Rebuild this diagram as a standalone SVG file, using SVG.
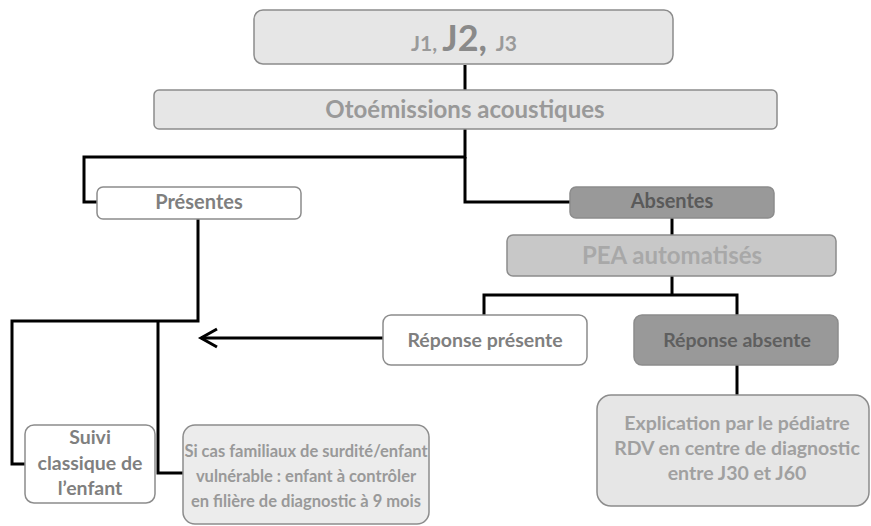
<svg xmlns="http://www.w3.org/2000/svg" width="871" height="526" viewBox="0 0 871 526">
<style>
.box{stroke:#8c8c8c;stroke-width:1.5}
.t{font-family:Lato,"Liberation Sans",sans-serif;font-weight:bold;text-anchor:middle}
.ln{fill:none;stroke:#000;stroke-width:3;stroke-linejoin:miter}
</style>
<rect width="871" height="526" fill="#fff"/>
<g id="connectors">
<path class="ln" d="M465 65 V90"/>
<path class="ln" d="M465 129 V157 H84 V202 H97"/>
<path class="ln" d="M465 157 V202 H570"/>
<path class="ln" d="M672 218 V235"/>
<path class="ln" d="M672 276 V295 M484 315 V295 H737 V315"/>
<path class="ln" d="M737 365 V395"/>
<path class="ln" d="M198 219 V321 H12 V464 H25"/>
<path class="ln" d="M158 321 V473 H183"/>
<path class="ln" d="M383 338 H201"/>
<path class="ln" d="M217 329 L201 338 L217 347"/>
</g>
<g id="n-j">
<rect class="box" x="254" y="10" width="419" height="54" rx="9" fill="#e6e6e6"/>
<text class="t" x="464" y="51" fill="#9a9a9a"><tspan font-size="21">J1, </tspan><tspan font-size="36" fill="#8a8a8a">J2, </tspan><tspan font-size="21">J3</tspan></text>
</g>
<g id="n-oto">
<rect class="box" x="154" y="90" width="623" height="39" rx="5" fill="#e6e6e6"/>
<text class="t" x="465" y="118" font-size="24" fill="#999">Otoémissions acoustiques</text>
</g>
<g id="n-pres">
<rect class="box" x="97" y="187" width="204" height="32" rx="6" fill="#fff"/>
<text class="t" x="199" y="209" font-size="20" fill="#7f7f7f">Présentes</text>
</g>
<g id="n-abs">
<rect class="box" x="570" y="187" width="204" height="31" rx="6" fill="#999"/>
<text class="t" x="672" y="208" font-size="20" fill="#5a5a5a">Absentes</text>
</g>
<g id="n-pea">
<rect class="box" x="507" y="235" width="329" height="41" rx="6" fill="#c8c8c8"/>
<text class="t" x="672" y="264" font-size="24" fill="#a8a8a8">PEA automatisés</text>
</g>
<g id="n-rpres">
<rect class="box" x="383" y="315" width="204" height="50" rx="8" fill="#fff"/>
<text class="t" x="485" y="347" font-size="19.5" fill="#7f7f7f">Réponse présente</text>
</g>
<g id="n-rabs">
<rect class="box" x="634" y="315" width="204" height="50" rx="8" fill="#999"/>
<text class="t" x="737" y="347" font-size="19.5" fill="#5f5f5f">Réponse absente</text>
</g>
<g id="n-suivi">
<rect class="box" x="25" y="425" width="130" height="78" rx="9" fill="#fff"/>
<text class="t" x="90" y="444" font-size="19.5" fill="#7f7f7f"><tspan x="90">Suivi</tspan><tspan x="90" y="470">classique de</tspan><tspan x="90" y="495">l’enfant</tspan></text>
</g>
<g id="n-sicas">
<rect class="box" x="183" y="425" width="246" height="99" rx="12" fill="#ececec"/>
<text class="t" x="306" y="457" font-size="16.5" fill="#999"><tspan x="306">Si cas familiaux de surdité/enfant</tspan><tspan x="306" y="482">vulnérable : enfant à contrôler</tspan><tspan x="306" y="507">en filière de diagnostic à 9 mois</tspan></text>
</g>
<g id="n-expl">
<rect class="box" x="597" y="395" width="272" height="111" rx="14" fill="#e6e6e6"/>
<text class="t" x="737" y="430" font-size="19.5" fill="#a0a0a0"><tspan x="737">Explication par le pédiatre</tspan><tspan x="737" y="455">RDV en centre de diagnostic</tspan><tspan x="737" y="480">entre J30 et J60</tspan></text>
</g>
</svg>
